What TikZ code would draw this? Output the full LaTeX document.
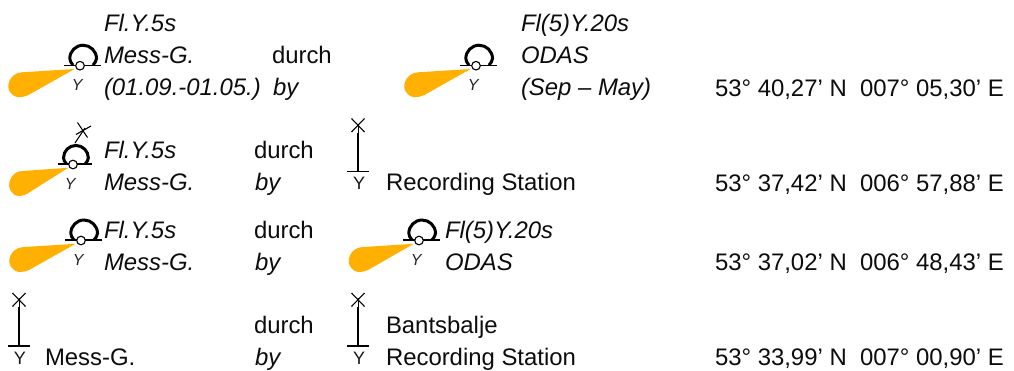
\documentclass[tikz,border=0pt]{standalone}
\usepackage{fontspec}
\setmainfont{Liberation Sans}
\tikzset{
  lbl/.style={anchor=base west,inner sep=0pt,outer sep=0pt,font=\fontsize{23.9}{26}\selectfont,text=black!95},
  ilbl/.style={lbl,font=\fontsize{23.9}{26}\selectfont\itshape},
  sym/.style={line width=1.5pt,draw=black},
  arcline/.style={line width=3pt,draw=black},
  lightY/.style={inner sep=0pt,font=\fontsize{16}{18}\selectfont\itshape,text=black!85},
  mastY/.style={inner sep=0pt,font=\fontsize{18}{20}\selectfont,text=black!90},
}
\definecolor{flare}{HTML}{FFB000}
% light symbol: #1 name, #2 x, #3 y, #4 flare xscale, #5 arc scale
\newcommand{\lightsym}[5]{%
  \begin{scope}[shift={(#2,#3)}]
    \fill[flare,xscale=#4] (-5.5,3.3) -- (-58,6.6) .. controls (-70,7.3) and (-75.5,21) .. (-69,27.5) .. controls (-65,32.5) and (-60,32.5) .. (-52,29.5) -- cycle;
    \draw[arcline,scale=#5] (-7,-0.5) .. controls (-9,-3) and (-10.2,-5) .. (-10.2,-7.2) .. controls (-10.2,-14.5) and (-4.2,-20.5) .. (3.1,-20.5) .. controls (10.4,-20.5) and (16.5,-14.5) .. (16.5,-7.2) .. controls (16.5,-5) and (15,-3) .. (13,-0.5);
    \draw[sym] (-16*#5,-0.3) -- (20.7*#5,-0.3);
    \node[circle,draw=black,fill=white,line width=1.1pt,minimum size=8.6pt,inner sep=0pt] (#1c) at (0,0) {};
    \node[lightY] (#1y) at (-2.7,19) {Y};
  \end{scope}}
% mast symbol: #1 name, #2 x, #3 base y
\newcommand{\mastsym}[3]{%
  \begin{scope}[shift={(#2,#3)}]
    \coordinate (#1b) at (0,0);
    \coordinate (#1t) at (0,-48);
    \draw[sym,line width=1.6pt] (#1b) -- (0,-39);
    \draw[line width=0.9pt] (0,-39) -- (#1t);
    \draw[sym] (-10.8,0) -- (10.8,0);
    \draw[line width=1.1pt] (-6.5,-53) -- (6.5,-39.5) (6.5,-53) -- (-6.5,-39.5);
    \node[mastY] (#1y) at (1,12) {Y};
  \end{scope}}
\begin{document}
\begin{tikzpicture}[x=1pt,y=-1pt]
\useasboundingbox (0,0) rectangle (1014,370);
\fill[white] (0,0) rectangle (1014,370);
% row 1
\lightsym{a}{80}{65.7}{1}{1}
\lightsym{b}{476}{65.7}{1}{1}
\node[ilbl] (t1a) at (104,31) {Fl.Y.5s};
\node[ilbl] (t1b) at (104,63) {Mess-G.};
\node[ilbl] (t1c) at (104,95) {(01.09.-01.05.)};
\node[lbl] (d1) at (272,63) {durch};
\node[ilbl] (b1) at (273,95) {by};
\node[ilbl] (t1d) at (521,31) {Fl(5)Y.20s};
\node[ilbl] (t1e) at (521,63) {ODAS};
\node[ilbl] (t1f) at (521,95) {(Sep – May)};
\node[lbl] (c1) at (715,96) {53° 40,27’ N\ \ 007° 05,30’ E};
% row 2
\lightsym{c}{73}{164.5}{0.89}{0.93}
\coordinate (m1) at (75,143);
\coordinate (m2) at (85,128);
\draw[line width=1.1pt] (m1) -- (m2);
\draw[line width=1.1pt] (77.5,122.5) -- (87.5,137.5) (91,126) -- (76,134.5);
\node[ilbl] (t2a) at (104,158) {Fl.Y.5s};
\node[ilbl] (t2b) at (104,190) {Mess-G.};
\node[lbl] (d2) at (254,158) {durch};
\node[ilbl] (b2) at (255,190) {by};
\mastsym{p}{358}{171.5}
\node[lbl] (r2) at (386,190) {Recording Station};
\node[lbl] (c2) at (715,191) {53° 37,42’ N\ \ 006° 57,88’ E};
% row 3
\lightsym{e}{81}{240.5}{1}{1}
\lightsym{f}{419}{240.5}{0.98}{1}
\node[ilbl] (t3a) at (104,238) {Fl.Y.5s};
\node[ilbl] (t3b) at (104,270) {Mess-G.};
\node[lbl] (d3) at (254,238) {durch};
\node[ilbl] (b3) at (255,270) {by};
\node[ilbl] (t3c) at (445,238) {Fl(5)Y.20s};
\node[ilbl] (t3d) at (445,270) {ODAS};
\node[lbl] (c3) at (715,270) {53° 37,02’ N\ \ 006° 48,43’ E};
% row 4
\mastsym{q}{19}{346}
\mastsym{s}{358}{346}
\node[lbl] (t4a) at (45,365) {Mess-G.};
\node[lbl] (d4) at (254,333) {durch};
\node[ilbl] (b4) at (255,365) {by};
\node[lbl] (r4a) at (386,333) {Bantsbalje};
\node[lbl] (r4b) at (386,365) {Recording Station};
\node[lbl] (c4) at (715,365) {53° 33,99’ N\ \ 007° 00,90’ E};
\end{tikzpicture}
\end{document}
